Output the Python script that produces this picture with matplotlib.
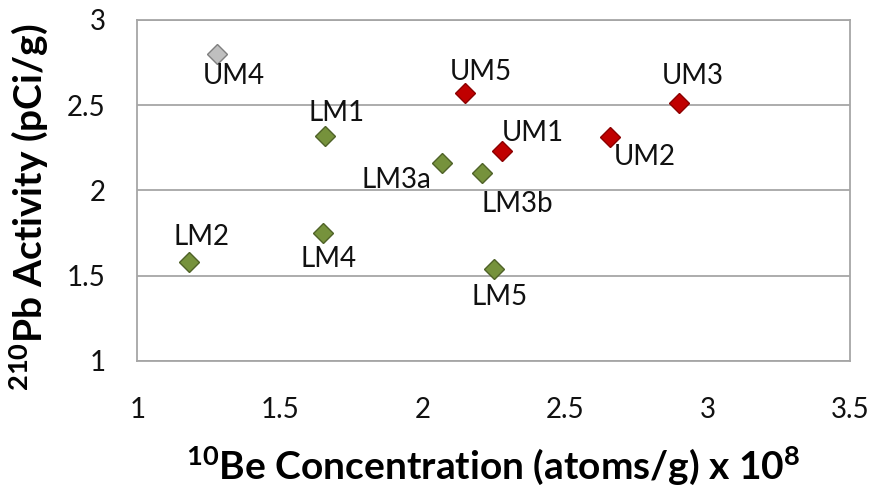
import numpy as np
import matplotlib
matplotlib.use('Agg')
import matplotlib.pyplot as plt
import matplotlib as mpl

mpl.rcParams['font.family'] = 'Lato'
mpl.rcParams['mathtext.default'] = 'regular'

# 10Be concentration (x 1e8 atoms/g) and 210Pb activity (pCi/g) per sample
upper_names = ['UM1', 'UM2', 'UM3', 'UM5']
upper_be = [2.28, 2.66, 2.90, 2.15]
upper_pb = [2.23, 2.31, 2.51, 2.57]

lower_names = ['LM1', 'LM2', 'LM3a', 'LM3b', 'LM4', 'LM5']
lower_be = [1.66, 1.18, 2.07, 2.21, 1.65, 2.25]
lower_pb = [2.32, 1.58, 2.16, 2.10, 1.75, 1.54]

outlier_names = ['UM4']
outlier_be = [1.28]
outlier_pb = [2.80]

# label offsets in points
offsets = {
    'UM1': (22, 13), 'UM2': (25, -14), 'UM3': (10, 20), 'UM5': (11, 15),
    'UM4': (12, -16), 'LM1': (8, 16), 'LM2': (9, 18), 'LM3a': (-33, -12),
    'LM3b': (25, -22), 'LM4': (4, -19), 'LM5': (4, -20),
}

fig = plt.figure(figsize=(8.69, 4.93), dpi=100)
ax = fig.add_axes([0.158, 0.268, 0.820, 0.692])

mk = dict(linestyle='none', marker='D', markersize=10.5, markeredgewidth=1.0)
ax.plot(upper_be, upper_pb, color='#C00000', markeredgecolor='#8B0000', **mk)
ax.plot(lower_be, lower_pb, color='#76923C', markeredgecolor='#4F6228', **mk)
ax.plot(outlier_be, outlier_pb, color='#BFBFBF', markeredgecolor='#7F7F7F', **mk)

for names, xs, ys in [(upper_names, upper_be, upper_pb),
                      (lower_names, lower_be, lower_pb),
                      (outlier_names, outlier_be, outlier_pb)]:
    for n, x, y in zip(names, xs, ys):
        ax.annotate(n, (x, y), xytext=offsets[n], textcoords='offset points',
                    ha='center', va='center', fontsize=20, color='#111111')

ax.set_xlim(1, 3.5)
ax.set_ylim(1, 3)
ax.set_xticks([1, 1.5, 2, 2.5, 3, 3.5])
ax.set_xticklabels(['1', '1.5', '2', '2.5', '3', '3.5'])
ax.set_yticks([1, 1.5, 2, 2.5, 3])
ax.set_yticklabels(['1', '1.5', '2', '2.5', '3'])
ax.tick_params(length=0, labelsize=20, colors='#111111')
ax.tick_params(axis='x', pad=26)
ax.tick_params(axis='y', pad=23)
ax.yaxis.grid(True, color='#A6A6A6', linewidth=1.3)
ax.set_axisbelow(True)
for s in ax.spines.values():
    s.set_color('#A6A6A6')
    s.set_linewidth(1.3)

ax.set_xlabel(r'$^{10}$Be Concentration (atoms/g) x 10$^{8}$', fontsize=28,
              fontweight='bold', labelpad=15)
ax.set_ylabel(r'$^{210}$Pb Activity (pCi/g)', fontsize=28, fontweight='bold')
ax.yaxis.set_label_coords(-0.123, 0.45)

fig.savefig('out.png', dpi=100)
